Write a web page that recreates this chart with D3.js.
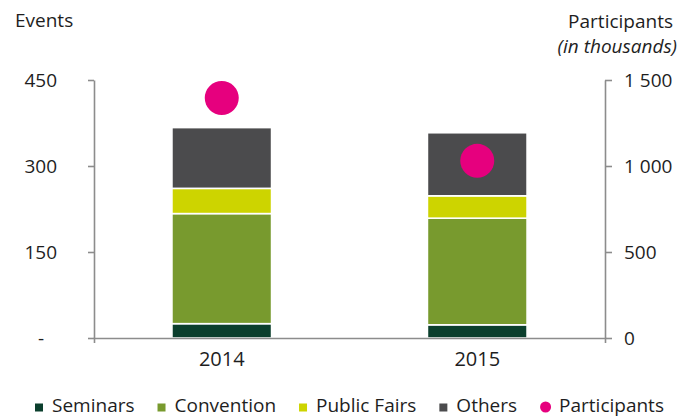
<!DOCTYPE html>
<html>
<head>
<meta charset="utf-8">
<script src="https://cdn.jsdelivr.net/npm/d3@7/dist/d3.min.js"></script>
<style>
  body { margin: 0; background: #fff; }
  svg text { font-family: "Open Sans", "Noto Sans", sans-serif; fill: #1e1e1e; }
</style>
</head>
<body>
<div id="chart"></div>
<script>
// Chart data
var years = ["2014", "2015"];
var seminars = [25, 23];
var convention = [192, 186];
var publicFairs = [44, 39];
var others = [106, 110];
var participants = [1395, 1030];   // in thousands

var seriesNames = ["Seminars", "Convention", "Public Fairs", "Others"];
var seriesColors = ["#0b3f2d", "#789a2e", "#cdd400", "#4b4b4d"];
var participantColor = "#e6007e";

var leftTicks = [0, 150, 300, 450];
var rightTicks = [0, 500, 1000, 1500];

var width = 693, height = 417;
var margin = { left: 94, right: 88, top: 80, bottom: 79 };

var svg = d3.select("#chart")
    .append("svg")
    .attr("width", width)
    .attr("height", height);

var x = d3.scaleBand()
    .domain(years)
    .range([margin.left, width - margin.right])
    .paddingInner(0.61)
    .paddingOuter(0.305);

var yLeft = d3.scaleLinear()
    .domain([0, 450])
    .range([height - margin.bottom, margin.top]);

var yRight = d3.scaleLinear()
    .domain([0, 1500])
    .range([height - margin.bottom, margin.top]);

// Build stacked rows from the arrays
var rows = years.map(function(yr, i) {
    return { year: yr, "Seminars": seminars[i], "Convention": convention[i],
             "Public Fairs": publicFairs[i], "Others": others[i] };
});
var stacked = d3.stack().keys(seriesNames)(rows);

var axisColor = "#8c8c8c";

// Bars
svg.selectAll(".layer")
    .data(stacked)
    .enter()
    .append("g")
    .attr("class", "layer")
    .attr("fill", function(d, i) { return seriesColors[i]; })
    .selectAll("rect")
    .data(function(d) { return d; })
    .enter()
    .append("rect")
    .attr("x", function(d) { return x(d.data.year); })
    .attr("width", x.bandwidth())
    .attr("y", function(d) { return yLeft(d[1]); })
    .attr("height", function(d) { return yLeft(d[0]) - yLeft(d[1]); })
    .attr("stroke", "#fff")
    .attr("stroke-width", 1.6);

// Axes
function styleAxis(g) {
    g.selectAll("path, line").attr("stroke", axisColor).attr("stroke-width", 1.6);
    g.selectAll("text").attr("font-size", 19).attr("fill", "#1e1e1e");
}

var fmtSpace = function(v) { return d3.format(",")(v).replace(/,/g, " "); };

var leftAxis = svg.append("g")
    .attr("transform", "translate(" + margin.left + ",0)")
    .call(d3.axisLeft(yLeft).tickValues(leftTicks).tickSize(6).tickSizeOuter(0).tickPadding(31)
        .tickFormat(function(v) { return v === 0 ? "-" : v; }))
    .call(styleAxis);
leftAxis.selectAll(".tick text").filter(function(d) { return d === 0; }).attr("dx", -13);

svg.append("g")
    .attr("transform", "translate(" + (width - margin.right) + ",0)")
    .call(d3.axisRight(yRight).tickValues(rightTicks).tickSize(7).tickSizeOuter(0).tickPadding(12)
        .tickFormat(fmtSpace))
    .call(styleAxis);

var bottomAxis = svg.append("g")
    .attr("transform", "translate(0," + (height - margin.bottom) + ")")
    .call(d3.axisBottom(x).tickSize(0).tickSizeOuter(5).tickPadding(14))
    .call(styleAxis);
bottomAxis.selectAll(".tick text").attr("font-size", 20);

// Participants dots
svg.selectAll(".participant")
    .data(participants)
    .enter()
    .append("circle")
    .attr("class", "participant")
    .attr("cx", function(d, i) { return x(years[i]) + x.bandwidth() / 2; })
    .attr("cy", function(d) { return yRight(d); })
    .attr("r", 17)
    .attr("fill", participantColor);

// Axis titles
svg.append("text").attr("x", 15).attr("y", 27).attr("font-size", 19).text("Events");
svg.append("text").attr("x", 673).attr("y", 28).attr("font-size", 19)
    .attr("text-anchor", "end").text("Participants");
svg.append("text").attr("x", 677).attr("y", 53).attr("font-size", 19)
    .attr("text-anchor", "end").attr("font-style", "italic").text("(in thousands)");

// Legend
var legendItems = seriesNames.map(function(n, i) { return { name: n, color: seriesColors[i], dot: false }; })
    .concat([{ name: "Participants", color: participantColor, dot: true }]);

var legend = svg.append("g").attr("class", "legend");
var lx = 35, ly = 411.5;
legendItems.forEach(function(item) {
    var g = legend.append("g");
    if (item.dot) {
        g.append("circle").attr("cx", lx + 5.5).attr("cy", ly - 4.5).attr("r", 5.5).attr("fill", item.color);
        lx += 2;
    } else {
        g.append("rect").attr("x", lx).attr("y", ly - 8).attr("width", 8).attr("height", 8).attr("fill", item.color);
    }
    var t = g.append("text").attr("x", lx + 17).attr("y", ly).attr("font-size", 19).text(item.name);
    lx = lx + 17 + t.node().getComputedTextLength() + 23;
});
</script>
</body>
</html>
